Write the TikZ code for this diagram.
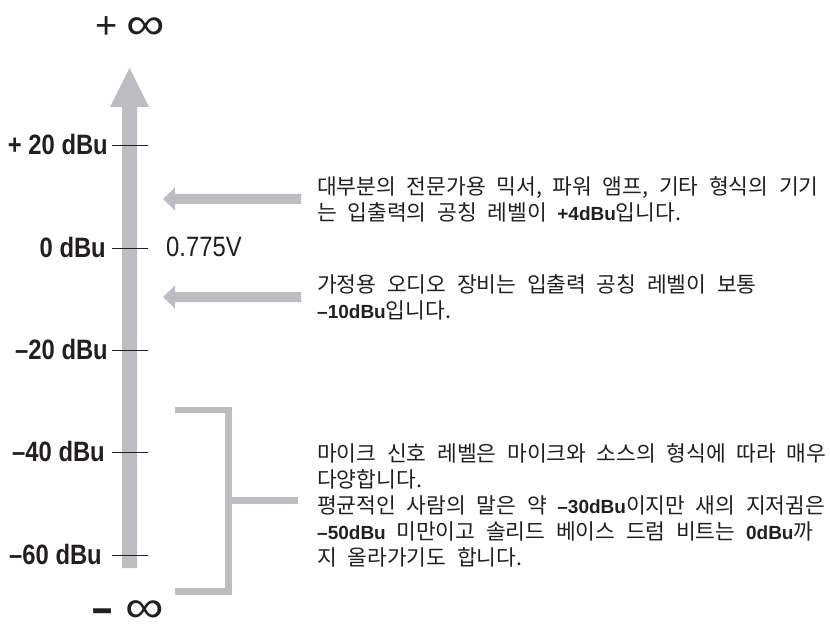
\documentclass[tikz,border=0pt]{standalone}
\usepackage{fontspec}
\setmainfont{Liberation Sans}
\newfontfamily\kr[WordSpace=2.2]{Noto Sans CJK KR}
\newfontfamily\cond[FakeStretch=0.85]{Liberation Sans}
\newfontfamily\lat{Liberation Sans}
\definecolor{bar}{HTML}{BCBDC0}
\definecolor{ink}{HTML}{231F20}
\newcommand{\bl}[1]{{\lat\fontsize{19}{26}\selectfont\bfseries #1}}
\begin{document}
\begin{tikzpicture}[x=1pt,y=-1pt,
  lvl/.style={font=\cond\bfseries\fontsize{28}{30}\selectfont, anchor=east, text=ink, inner sep=0pt},
  tickline/.style={draw=ink, line width=0.9pt},
  note/.style={font=\kr\fontsize{21.5}{26}\selectfont, align=left, anchor=west, text=ink, inner sep=0pt},
  inf/.style={font=\lat\fontsize{38}{40}\selectfont, text=ink, inner sep=0pt},
  bracket/.style={draw=bar, line width=6.5pt, line join=miter}]
\useasboundingbox (0,0) rectangle (830,631);
% main vertical arrow
\fill[bar] (122,568) -- (122,107) -- (110,107) -- (129.5,68) -- (149,107) -- (137,107) -- (137,568) -- cycle;
% infinity labels
\node[inf, anchor=west] (pinf) at (95,28) {+\hspace{9pt}\raisebox{-1pt}{\scalebox{1.42}[1.2]{∞}}};
\node[inf, anchor=west] (minf) at (92,613) {\raisebox{-2pt}{\scalebox{0.95}[1.3]{\bfseries –}}\hspace{13pt}\scalebox{1.42}[1.2]{∞}};
% ticks and level labels
\foreach \y/\n in {145/t20, 248/t0, 350/tm20, 452/tm40, 555/tm60}{
  \coordinate (\n a) at (112,\y);
  \coordinate (\n b) at (148,\y);
  \draw[tickline] (\n a) -- (\n b);
}
\node[lvl] (l20) at (108,144) {+ 20 dBu};
\node[lvl] (l0) at (106,247) {0 dBu};
\node[lvl] (lm20) at (108,349) {–20 dBu};
\node[lvl] (lm40) at (105,451) {–40 dBu};
\node[lvl] (lm60) at (102,554) {–60 dBu};
\node[font=\cond\fontsize{28}{30}\selectfont, anchor=west, text=ink, inner sep=0pt] (volt) at (166,247) {0.775V};
% horizontal arrows
\foreach \y/\n in {199/a1, 297/a2}{
  \fill[bar] (163,\y) -- (175,\y-11.5) -- (175,\y-5) -- (301,\y-5) -- (301,\y+5) -- (175,\y+5) -- (175,\y+11.5) -- cycle;
}
% bracket
\draw[bracket] (175,410) -- (228.5,410) -- (228.5,591.5) -- (175,591.5);
\draw[bracket] (228.5,500.5) -- (298,500.5);
% notes
\node[note] (n1) at (317,199) {대부분의 전문가용 믹서, 파워 앰프, 기타 형식의 기기\\는 입출력의 공칭 레벨이 \bl{+4dBu}입니다.};
\node[note] (n2) at (317,297) {가정용 오디오 장비는 입출력 공칭 레벨이 보통\\\bl{–10dBu}입니다.};
\node[note] (n3) at (317,505) {마이크 신호 레벨은 마이크와 소스의 형식에 따라 매우\\다양합니다.\\평균적인 사람의 말은 약 \bl{–30dBu}이지만 새의 지저귐은\\\bl{–50dBu} 미만이고 솔리드 베이스 드럼 비트는 \bl{0dBu}까\\지 올라가기도 합니다.};
\end{tikzpicture}
\end{document}
